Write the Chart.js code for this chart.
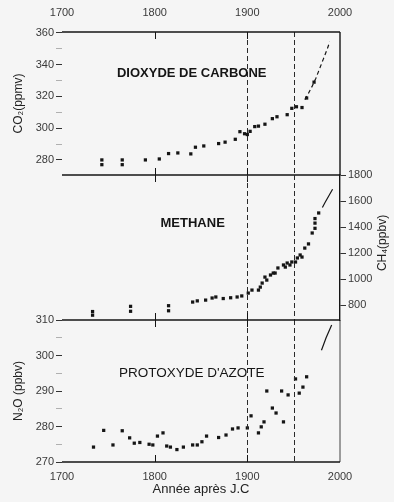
<!DOCTYPE html>
<html lang="fr">
<head>
<meta charset="UTF-8">
<title>CO2, CH4, N2O depuis 1700</title>
<script src="https://cdn.jsdelivr.net/npm/chart.js"></script>
<style>
  body { margin: 0; background: #f5f5f5; }
  .wrap { position: relative; width: 394px; height: 502px; overflow: hidden; }
  .panel { position: absolute; left: 0; width: 394px; }
  .panel canvas { display: block; }
</style>
</head>
<body>
<div class="wrap">
  <div class="panel" style="top:0"><canvas id="co2Chart" width="394" height="190"></canvas></div>
  <div class="panel" style="top:160px"><canvas id="ch4Chart" width="394" height="175"></canvas></div>
  <div class="panel" style="top:305px"><canvas id="n2oChart" width="394" height="197"></canvas></div>
</div>

<script>
// axe des années
const xLabelYears = [1700, 1800, 1900, 2000];
const refYears = [1900, 1950];          // lignes pointillées
const innerTickYears = [1800, 1900];    // petites graduations sur les cadres

// dioxyde de carbone (ppmv)
const co2Ticks = [280, 290, 300, 310, 320, 330, 340, 350, 360];
const co2Years  = [1743, 1743, 1765, 1765, 1790, 1805, 1815, 1825, 1839, 1844, 1853, 1869, 1876, 1887, 1892, 1897, 1900, 1903, 1908, 1912, 1919, 1927, 1932, 1943, 1948, 1953, 1959, 1964, 1972];
const co2Values = [277, 280, 277, 280, 280, 280.6, 284, 284.4, 283.8, 288, 288.8, 290.3, 291.2, 293, 297.8, 296.5, 296, 298, 301, 301.3, 302.5, 306, 307.2, 308.5, 312.5, 313.5, 313, 319, 329];
const co2LineYears  = [1962, 1966, 1970, 1974, 1978, 1982, 1986, 1989];
const co2LineValues = [318, 322, 326.5, 331.5, 337.5, 343.5, 349.5, 354.5];

// méthane (ppbv)
const ch4Ticks = [800, 900, 1000, 1100, 1200, 1300, 1400, 1500, 1600, 1700, 1800];
const ch4Years  = [1733, 1733, 1774, 1774, 1815, 1815, 1841, 1846, 1855, 1862, 1866, 1874, 1882, 1889, 1894, 1901, 1905, 1912, 1914, 1916, 1919, 1921, 1925, 1928, 1930, 1933, 1939, 1941, 1943, 1946, 1948, 1952, 1954, 1957, 1959, 1962, 1966, 1970, 1973, 1973, 1973, 1977];
const ch4Values = [750, 722, 790, 752, 795, 756, 823, 832, 838, 854, 862, 850, 856, 862, 870, 892, 915, 915, 938, 969, 1015, 992, 1031, 1046, 1046, 1085, 1108, 1092, 1123, 1108, 1131, 1131, 1162, 1185, 1169, 1238, 1270, 1354, 1390, 1430, 1465, 1508];
const ch4LineYears  = [1981, 1984, 1988, 1992];
const ch4LineValues = [1550, 1590, 1640, 1690];

// protoxyde d'azote (ppbv)
const n2oTicks = [270, 275, 280, 285, 290, 295, 300, 305, 310];
const n2oYears  = [1734, 1745, 1755, 1765, 1773, 1778, 1784, 1794, 1798, 1803, 1809, 1813, 1817, 1824, 1831, 1841, 1846, 1851, 1856, 1869, 1877, 1884, 1890, 1900, 1904, 1912, 1915, 1918, 1921, 1927, 1931, 1937, 1939, 1944, 1952, 1956, 1960, 1964];
const n2oValues = [274.2, 278.9, 274.8, 278.8, 276.8, 275.3, 275.5, 275, 274.8, 277.3, 278.2, 274.5, 274.2, 273.5, 274.2, 274.8, 274.8, 275.7, 277.3, 276.9, 277.6, 279.3, 279.6, 279.6, 283, 278.2, 279.9, 281.3, 290, 285.2, 283.8, 290, 281.3, 288.9, 293.4, 289.4, 291.1, 294];
const n2oLineYears  = [1980, 1985, 1991];
const n2oLineValues = [301.5, 305, 308.6];

Chart.defaults.font.family = "'Liberation Sans', Arial, sans-serif";
Chart.defaults.color = '#3a3a3a';

const pairs = (xs, ys) => xs.map((x, i) => ({ x, y: ys[i] }));
const ink = '#151515';

function pointsSet(xs, ys) {
  return {
    data: pairs(xs, ys),
    pointStyle: 'rect',
    pointRadius: 2.3,
    backgroundColor: ink,
    borderWidth: 0
  };
}
function lineSet(xs, ys, dash) {
  return {
    data: pairs(xs, ys),
    showLine: true,
    pointRadius: 0,
    borderColor: ink,
    borderWidth: 1.2,
    borderDash: dash
  };
}

// cadre, lignes pointillées, titres de panneau
const cadre = {
  id: 'cadre',
  afterDatasetsDraw(chart, args, o) {
    const { ctx, chartArea: a, scales } = chart;
    const x = scales.x, y = scales.y;
    const px = v => Math.round(x.getPixelForValue(v)) + 0.5;
    ctx.save();
    ctx.strokeStyle = '#2a2a2a';
    ctx.lineWidth = 1;
    ctx.setLineDash([5, 3]);
    refYears.forEach(yr => {
      ctx.beginPath(); ctx.moveTo(px(yr), a.top); ctx.lineTo(px(yr), a.bottom); ctx.stroke();
    });
    ctx.setLineDash([]);
    ctx.strokeStyle = ink;
    (o.hlines || []).forEach(h => {
      const yy = h.pos === 'top' ? a.top : a.bottom;
      ctx.lineWidth = 1.4;
      ctx.beginPath(); ctx.moveTo(a.left, yy); ctx.lineTo(a.right, yy); ctx.stroke();
      ctx.lineWidth = 1;
      innerTickYears.forEach(yr => {
        const y1 = h.dir > 0 ? yy : yy - 7;
        const y2 = h.dir < 0 ? yy : yy + 7;
        ctx.beginPath(); ctx.moveTo(px(yr), y1); ctx.lineTo(px(yr), y2); ctx.stroke();
      });
    });
    if (o.right) {
      ctx.lineWidth = o.right;
      ctx.beginPath(); ctx.moveTo(a.right, a.top); ctx.lineTo(a.right, a.bottom); ctx.stroke();
    }
    ctx.fillStyle = ink;
    ctx.textAlign = 'center';
    ctx.textBaseline = 'middle';
    if (o.label) {
      ctx.font = o.label.font;
      ctx.fillText(o.label.text, x.getPixelForValue(o.label.at[0]), y.getPixelForValue(o.label.at[1]));
    }
    if (o.rightTitle) {
      ctx.font = "12px 'Liberation Sans', Arial, sans-serif";
      ctx.fillStyle = '#222';
      ctx.translate(o.rightTitle.x, o.rightTitle.y);
      ctx.rotate(-Math.PI / 2);
      ctx.fillText(o.rightTitle.text, 0, 0);
    }
    ctx.restore();
  }
};

function yearAxis(position, height, show) {
  return {
    type: 'linear',
    position,
    display: show,
    min: 1700,
    max: 2000,
    afterBuildTicks: s => { s.ticks = xLabelYears.map(value => ({ value })); },
    afterFit: s => { s.height = height; },
    grid: { display: false },
    border: { display: false },
    ticks: { font: { size: 11 }, padding: position === 'top' ? 4 : 0, callback: v => String(v) }
  };
}

function valueAxis(position, min, max, ticks, major, width, title) {
  return {
    type: 'linear',
    position,
    min, max,
    afterBuildTicks: s => { s.ticks = ticks.map(value => ({ value })); },
    afterFit: s => { s.width = width; },
    grid: {
      drawOnChartArea: false,
      tickLength: 6,
      tickColor: c => (c.tick && c.tick.value % major === 0) ? '#333' : '#b0b0b0'
    },
    border: position === 'right' ? { display: true, color: ink, width: 1.4 } : { display: false },
    ticks: {
      font: { size: 11 },
      padding: 2,
      callback: v => (v % major === 0 ? String(v) : '')
    },
    title: title ? { display: true, text: title, font: { size: 12 }, color: '#222', padding: { top: 11 } } : { display: false }
  };
}

const base = {
  responsive: false,
  animation: false,
  devicePixelRatio: 1,
  events: [],
  plugins: { legend: { display: false }, tooltip: { enabled: false } }
};

new Chart(document.getElementById('co2Chart'), {
  type: 'scatter',
  data: { datasets: [pointsSet(co2Years, co2Values), lineSet(co2LineYears, co2LineValues, [4, 3])] },
  options: {
    ...base,
    layout: { padding: { left: 0, right: 54, top: 0, bottom: 15 } },
    scales: {
      x: yearAxis('top', 32, true),
      y: valueAxis('left', 270.5, 360.6, co2Ticks, 20, 62, 'CO₂(ppmv)')
    },
    plugins: {
      ...base.plugins,
      cadre: {
        hlines: [{ pos: 'top', dir: 1 }, { pos: 'bottom', dir: 0 }],
        right: 1.4,
        label: { text: 'DIOXYDE DE CARBONE', at: [1840, 334.8], font: "bold 13px 'Liberation Sans', Arial, sans-serif" }
      }
    }
  },
  plugins: [cadre]
});

new Chart(document.getElementById('ch4Chart'), {
  type: 'scatter',
  data: { datasets: [pointsSet(ch4Years, ch4Values), lineSet(ch4LineYears, ch4LineValues, [])] },
  options: {
    ...base,
    layout: { padding: { left: 62, right: 0, top: 15, bottom: 15 } },
    scales: {
      x: yearAxis('bottom', 0, false),
      y: valueAxis('right', 685, 1800, ch4Ticks, 200, 54, null)
    },
    plugins: {
      ...base.plugins,
      cadre: {
        hlines: [],
        label: { text: 'METHANE', at: [1841, 1431], font: "bold 13px 'Liberation Sans', Arial, sans-serif" },
        rightTitle: { text: 'CH₄(ppbv)', x: 383, y: 83 }
      }
    }
  },
  plugins: [cadre]
});

new Chart(document.getElementById('n2oChart'), {
  type: 'scatter',
  data: { datasets: [pointsSet(n2oYears, n2oValues), lineSet(n2oLineYears, n2oLineValues, [])] },
  options: {
    ...base,
    layout: { padding: { left: 0, right: 54, top: 15, bottom: 0 } },
    scales: {
      x: {
        ...yearAxis('bottom', 40, true),
        title: { display: true, text: 'Année après J.C', font: { size: 13 }, color: '#222', padding: { top: 0, bottom: 5 } }
      },
      y: valueAxis('left', 270, 310, n2oTicks, 10, 62, 'N₂O (ppbv)')
    },
    plugins: {
      ...base.plugins,
      cadre: {
        hlines: [{ pos: 'top', dir: 0 }, { pos: 'bottom', dir: -1 }],
        right: 0.8,
        label: { text: "PROTOXYDE D'AZOTE", at: [1840, 295], font: "13.5px 'Liberation Sans', Arial, sans-serif" }
      }
    }
  },
  plugins: [cadre]
});
</script>
</body>
</html>
